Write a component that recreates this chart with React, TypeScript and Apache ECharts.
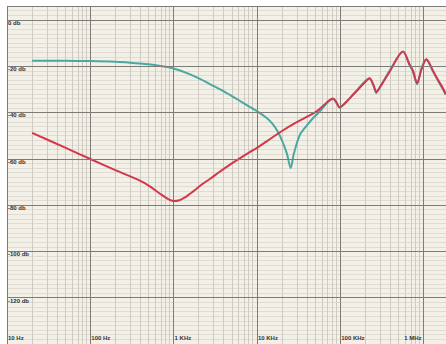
import React, { useEffect, useRef } from 'react';
import * as echarts from 'echarts';

const freqTicks = [10, 100, 1000, 10000, 100000, 1000000];
const freqLabels = ['10 Hz', '100 Hz', '1 KHz', '10 KHz', '100 KHz', '1 MHz'];
const dbTicks = [0, -20, -40, -60, -80, -100, -120];

const tealFreq = [20, 50, 100, 200, 300, 500, 700, 1000, 1500, 2100, 3000, 4200, 6000, 8300, 10000, 13000, 15500, 18000, 20500, 23000, 25400, 27500, 30000, 33000, 37000, 47000, 52000, 62000, 71000, 82000, 90000, 98000, 110000, 150000, 225000, 250000, 271000, 300000, 400000, 568000, 681000, 748000, 836000, 950000, 1080000, 1300000, 1490000, 1710000, 1850000];
const tealDb = [-17.7, -17.7, -17.8, -18.1, -18.5, -19.2, -19.9, -21, -23.2, -25.6, -28.5, -31.3, -34.6, -37.7, -39.4, -42.3, -45, -48.5, -53, -58, -64, -58.5, -53.5, -49.5, -47, -42.5, -41, -38, -35.5, -34.2, -35.7, -37.9, -36.7, -31.5, -25.3, -28.2, -31.6, -29.2, -21.5, -13.8, -19.4, -22.2, -27.8, -21, -17.1, -22.2, -26.2, -30, -32.4];

const redFreq = [20, 50, 100, 200, 400, 525, 700, 850, 1000, 1150, 1350, 1700, 2200, 2750, 3300, 5000, 8300, 10000, 15000, 20000, 29700, 40000, 51600, 63000, 74700, 82000, 90000, 98000, 110000, 150000, 210000, 225000, 250000, 271000, 300000, 390000, 568000, 681000, 748000, 836000, 950000, 1080000, 1300000, 1490000, 1710000, 1850000];
const redDb = [-48.8, -55.2, -60.1, -64.9, -69.5, -72, -75.3, -77.3, -78.2, -78, -76.8, -74.2, -71, -68.6, -66.5, -62, -57, -55.3, -51, -48, -44.3, -41.8, -39.6, -37, -34.6, -34, -35.5, -37.7, -36.5, -31.5, -26, -25.2, -28, -31, -29, -22.5, -13.7, -19.4, -22, -27.3, -21, -17, -22, -25.9, -29.5, -32];

const X_MIN = 1;
const X_MAX = 6.27;
const Y_MIN = -140;
const Y_MAX = 6;

export default function App() {
  const ref = useRef<HTMLDivElement>(null);
  useEffect(() => {
    const el = ref.current!;
    const chart = echarts.init(el, null, { renderer: 'svg' });

    const minorV: any[] = [];
    for (let d = 10; d <= 1e6; d *= 10) {
      for (let k = 2; k <= 9; k++) {
        const lv = Math.log10(k * d);
        if (lv < X_MAX) minorV.push({ xAxis: lv });
      }
    }
    const minorH: any[] = [];
    for (let v = -138; v <= 4; v += 2) {
      if (v % 20 !== 0) minorH.push({ yAxis: v });
    }

    const option: any = {
      animation: false,
      backgroundColor: '#ffffff',
      grid: {
        left: 7, top: 6, right: 0, bottom: 0,
        show: true, backgroundColor: '#f3f0e8', borderWidth: 0,
      },
      xAxis: {
        type: 'value', min: X_MIN, max: X_MAX, interval: 1, z: 2,
        axisLine: { show: false }, axisTick: { show: false }, axisLabel: { show: false },
        splitLine: { show: true, lineStyle: { color: '#7d7b78', width: 1 } },
      },
      yAxis: {
        type: 'value', min: Y_MIN, max: Y_MAX, interval: 20, z: 6,
        axisLine: { show: false }, axisTick: { show: false },
        axisLabel: {
          show: true, inside: true, margin: 1, verticalAlign: 'top',
          fontSize: 6, fontWeight: 'bold', fontFamily: 'Liberation Sans', color: '#333333',
          formatter: (v: number) => (dbTicks.indexOf(v) >= 0 ? `${v} db` : ''),
        },
        splitLine: { show: true, lineStyle: { color: '#7d7b78', width: 1 } },
      },
      series: [
        {
          type: 'line', data: [], z: 1, silent: true,
          markLine: {
            z: 1, silent: true, symbol: ['none', 'none'], label: { show: false },
            lineStyle: { color: '#e0dcd3', width: 1, type: 'solid' },
            emphasis: { disabled: true },
            data: minorH,
          },
        },
        {
          type: 'line', data: [], z: 1, silent: true,
          markLine: {
            z: 1, silent: true, symbol: ['none', 'none'], label: { show: false },
            lineStyle: { color: '#cfcbc2', width: 1, type: 'solid' },
            emphasis: { disabled: true },
            data: minorV,
          },
        },
        {
          type: 'line', z: 3, smooth: 0.3, showSymbol: false, silent: true,
          lineStyle: { color: '#4aa8a0', width: 2 },
          data: tealFreq.map((f, i) => [Math.log10(f), tealDb[i]]),
        },
        {
          type: 'line', z: 4, smooth: 0.3, showSymbol: false, silent: true,
          lineStyle: { color: '#d2384b', width: 2 },
          data: redFreq.map((f, i) => [Math.log10(f), redDb[i]]),
        },
      ],
    };
    chart.setOption(option);

    const graphic = freqTicks.map((f, i) => {
      const p = chart.convertToPixel({ gridIndex: 0 }, [Math.log10(f), Y_MIN]) as number[];
      const last = i === freqTicks.length - 1;
      return {
        type: 'text', z: 10,
        x: last ? p[0] - 2 : p[0] + 1,
        y: p[1] - 6,
        style: {
          text: freqLabels[i], fill: '#333333', fontSize: 6, fontWeight: 'bold',
          fontFamily: 'Liberation Sans', align: last ? 'right' : 'left', verticalAlign: 'middle',
        },
      };
    });
    chart.setOption({ graphic });
    return () => chart.dispose();
  }, []);
  return <div ref={ref} style={{ position: 'absolute', left: 0, top: 0, width: 446, height: 344 }} />;
}
